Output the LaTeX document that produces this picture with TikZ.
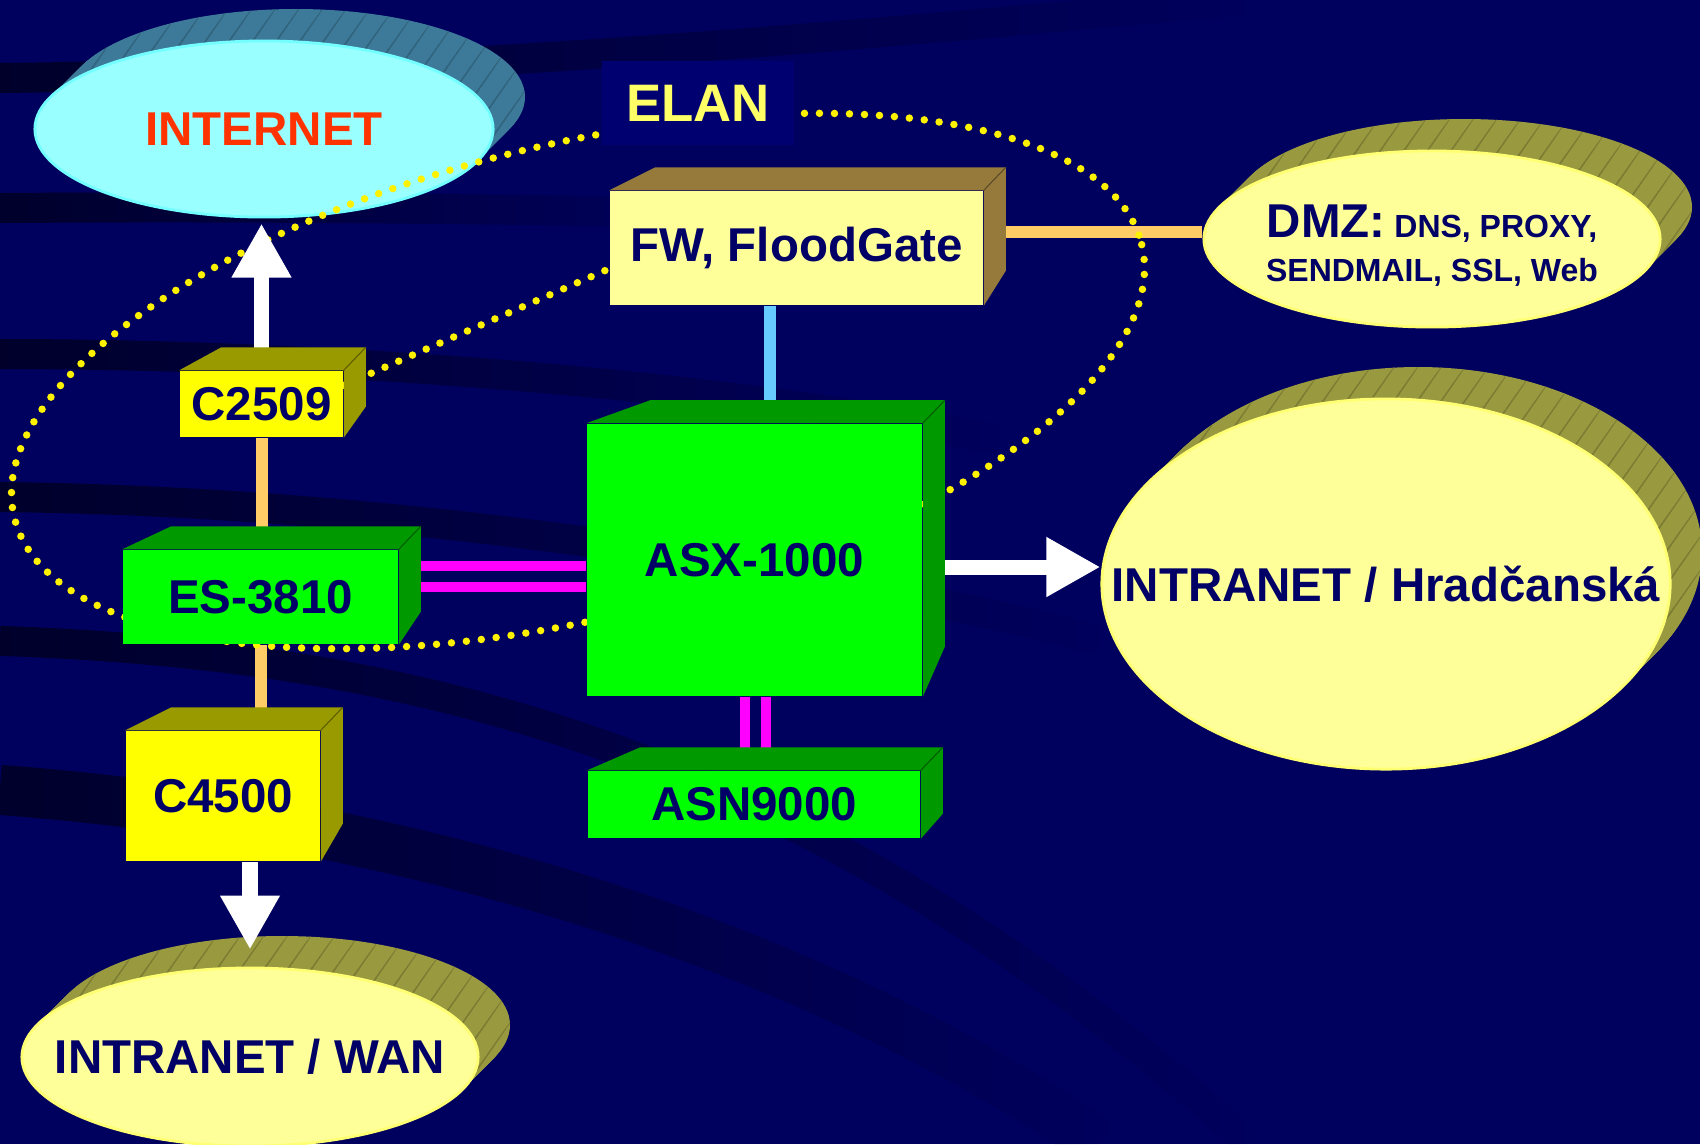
\documentclass[tikz,border=0pt]{standalone}
\usepackage{fontspec}
\setmainfont{Liberation Sans}
\usetikzlibrary{arrows.meta,calc,shapes.geometric,patterns.meta,fadings}

\definecolor{navybg}{RGB}{0,0,94}
\definecolor{navyband}{RGB}{0,0,30}
\definecolor{elanbg}{RGB}{0,0,112}
\definecolor{labelnavy}{RGB}{0,0,102}
\definecolor{paleyellow}{RGB}{255,255,153}
\definecolor{olive}{RGB}{153,153,64}
\definecolor{skycyan}{RGB}{153,255,255}
\definecolor{skyshade}{RGB}{61,122,153}
\definecolor{netred}{RGB}{255,51,0}
\definecolor{fwbrown}{RGB}{150,122,60}
\definecolor{routeryellow}{RGB}{255,255,0}
\definecolor{routerdark}{RGB}{153,153,0}
\definecolor{switchgreen}{RGB}{0,255,0}
\definecolor{switchdark}{RGB}{0,153,0}
\definecolor{cableorange}{RGB}{255,204,102}
\definecolor{cableblue}{RGB}{102,204,255}
\definecolor{cablemagenta}{RGB}{255,0,255}
\definecolor{elanyellow}{RGB}{255,255,102}

\pgfdeclarelayer{sky}
\pgfdeclarelayer{wires}
\pgfsetlayers{sky,wires,main}

\tikzset{
  device/.style={inner sep=0pt, text=labelnavy, font=\fontsize{13.5}{16}\selectfont\bfseries},
  cloud/.style={ellipse, inner sep=0pt, line width=0.8pt},
  cloudtext/.style={inner sep=0pt, text=labelnavy, font=\fontsize{13.5}{16}\selectfont\bfseries},
  bigarrow/.style={white, line width=0.15cm, -{Triangle[width=0.56cm,length=0.54cm]}},
  orangeline/.style={cableorange, line width=0.12cm},
  blueline/.style={cableblue, line width=0.12cm},
  magline/.style={cablemagenta, line width=0.1cm},
  elandots/.style={yellow, line width=0.075cm, line cap=round, dash pattern=on 0pt off 0.15cm},
  band/.style={navyband, line width=0.3cm, opacity=0.8, path fading=east},
}

\newcommand{\boxsides}[4]{%
  \fill[#2] (#1.north west) -- ++(#3,-23) -- ($(#1.north east)+(22,-23)$)
    -- ($(#1.south east)+(22,-#4)$) -- (#1.south east) -- (#1.north east) -- cycle;
  \draw[#2!60!black, line width=0.3pt] (#1.north east) -- ++(22,-23);
}

\newcommand{\cloudshade}[4]{%
  \foreach \k in {1,...,32}
    \fill[#4] ($(#1)+(\k,-\k)$) ellipse [x radius=#2, y radius=#3];
  \foreach \k in {4,8,...,32}
    \fill[pattern={Lines[angle=55,distance=5.5pt,line width=0.25pt]}, pattern color=#4!82!black]
      ($(#1)+(\k,-\k)$) ellipse [x radius=#2, y radius=#3];
}

\begin{document}
\begin{tikzpicture}[x=0.01cm, y=-0.01cm]
  \useasboundingbox (0,0) rectangle (1700,1144);
  \begin{pgfonlayer}{sky}
    \fill[navybg] (0,0) rectangle (1700,1144);
    \draw[band] (0,78) .. controls (500,72) and (900,30) .. (1250,0);
    \draw[band] (0,208) .. controls (300,206) and (500,210) .. (700,212);
    \draw[band] (0,354) .. controls (300,354) and (700,380) .. (1000,440);
    \draw[band] (0,497) .. controls (300,500) and (700,540) .. (1100,640);
    \draw[band] (0,641) .. controls (400,655) and (800,740) .. (1250,1144);
    \draw[band, line width=0.5cm] (0,790) .. controls (400,820) and (800,940) .. (1100,1144);

    \coordinate (inetc) at (264,129);
    \coordinate (dmzc) at (1432,239);
    \coordinate (hradc) at (1386,584);
    \coordinate (wanc) at (250,1057);
    \cloudshade{inetc}{229}{88}{skyshade}
    \cloudshade{dmzc}{228}{88}{olive}
    \cloudshade{hradc}{284}{185}{olive}
    \cloudshade{wanc}{228}{89}{olive}
    \node[cloud, fill=skycyan, draw=skycyan!75!cyan, minimum width=4.58cm, minimum height=1.76cm] (internet) at (inetc) {};
    \node[cloud, fill=paleyellow, draw=paleyellow!75!yellow, minimum width=4.56cm, minimum height=1.76cm] (dmz) at (dmzc) {};
    \node[cloud, fill=paleyellow, draw=paleyellow!75!yellow, minimum width=5.68cm, minimum height=3.70cm] (hrad) at (hradc) {};
    \node[cloud, fill=paleyellow, draw=paleyellow!75!yellow, minimum width=4.56cm, minimum height=1.78cm] (wan) at (wanc) {};
    \node[cloudtext, text=netred] (internettext) at (internet) {INTERNET};
    \node[cloudtext, align=center, font=\fontsize{9.1}{12.5}\selectfont\bfseries] (dmztext) at ([yshift=-0.07cm]dmz.center)
      {{\fontsize{13.5}{15}\selectfont DMZ:} DNS, PROXY,\\SENDMAIL, SSL, Web};
    \node[cloudtext] (hradtext) at (hrad) {INTRANET / Hradčanská};
    \node[cloudtext] (wantext) at (wan) {INTRANET / WAN};
  \end{pgfonlayer}

  \node[device, fill=paleyellow, minimum width=3.73cm, minimum height=1.14cm] (fw) at (796.5,248) {FW, FloodGate};
  \boxsides{fw}{fwbrown}{46}{35}
  \node[device, fill=routeryellow, minimum width=1.63cm, minimum height=0.66cm] (c2509) at (261.5,404) {C2509};
  \boxsides{c2509}{routerdark}{42}{31}
  \node[device, fill=switchgreen, minimum width=2.75cm, minimum height=0.94cm] (es) at (260.5,597) {ES-3810};
  \boxsides{es}{switchdark}{49}{33}
  \node[device, fill=switchgreen, minimum width=3.35cm, minimum height=2.72cm] (asx) at (754.5,560) {ASX-1000};
  \boxsides{asx}{switchdark}{64}{50}
  \node[device, fill=switchgreen, minimum width=3.32cm, minimum height=0.67cm] (asn) at (754,804.5) {ASN9000};
  \boxsides{asn}{switchdark}{53}{25}
  \node[device, fill=routeryellow, minimum width=1.94cm, minimum height=1.30cm] (c4500) at (223,796) {C4500};
  \boxsides{c4500}{routerdark}{46}{38}
  \node[fill=elanbg, inner sep=0pt, minimum width=1.92cm, minimum height=0.84cm, text=elanyellow,
    font=\fontsize{15}{18}\selectfont\bfseries] (elan) at (698,103) {ELAN};

  \begin{pgfonlayer}{wires}
    \draw[orangeline] (c2509.south) -- (c2509.south |- es.north);
    \draw[orangeline] (es.south) -- (es.south |- c4500.north);
    \draw[orangeline] ([yshift=0.16cm]fw.east) -- ([yshift=0.16cm]fw.east -| dmz.west);
    \draw[blueline] ($(fw.south west)!0.43!(fw.south east)$) coordinate (fwdrop) -- (fwdrop |- asx.north);
    \draw[magline] ([yshift=0.315cm]es.east) -- ([yshift=0.315cm]es.east -| asx.west);
    \draw[magline] ([yshift=0.105cm]es.east) -- ([yshift=0.105cm]es.east -| asx.west);
    \draw[magline] ([xshift=-0.095cm]asx.south) -- ([xshift=-0.095cm]asx.south |- asn.north);
    \draw[magline] ([xshift=0.115cm]asx.south) -- ([xshift=0.115cm]asx.south |- asn.north);
    \draw[elandots, rotate around={13.6:(578,381)}] (578,381) ellipse [x radius=580, y radius=237];
    \draw[elandots] ($(c2509.north east)+(0,15)$) -- ($(fw.south west)+(0,-37)$);
    \draw[bigarrow] (c2509.north) -- ([yshift=-0.05cm]c2509.north |- internet.south);
    \draw[bigarrow] (wan.north |- c4500.south) -- ([yshift=0.17cm]wan.north);
    \draw[bigarrow] ([yshift=-0.07cm]asx.east) -- ([yshift=-0.07cm]asx.east -| hrad.west);
  \end{pgfonlayer}
\end{tikzpicture}
\end{document}
